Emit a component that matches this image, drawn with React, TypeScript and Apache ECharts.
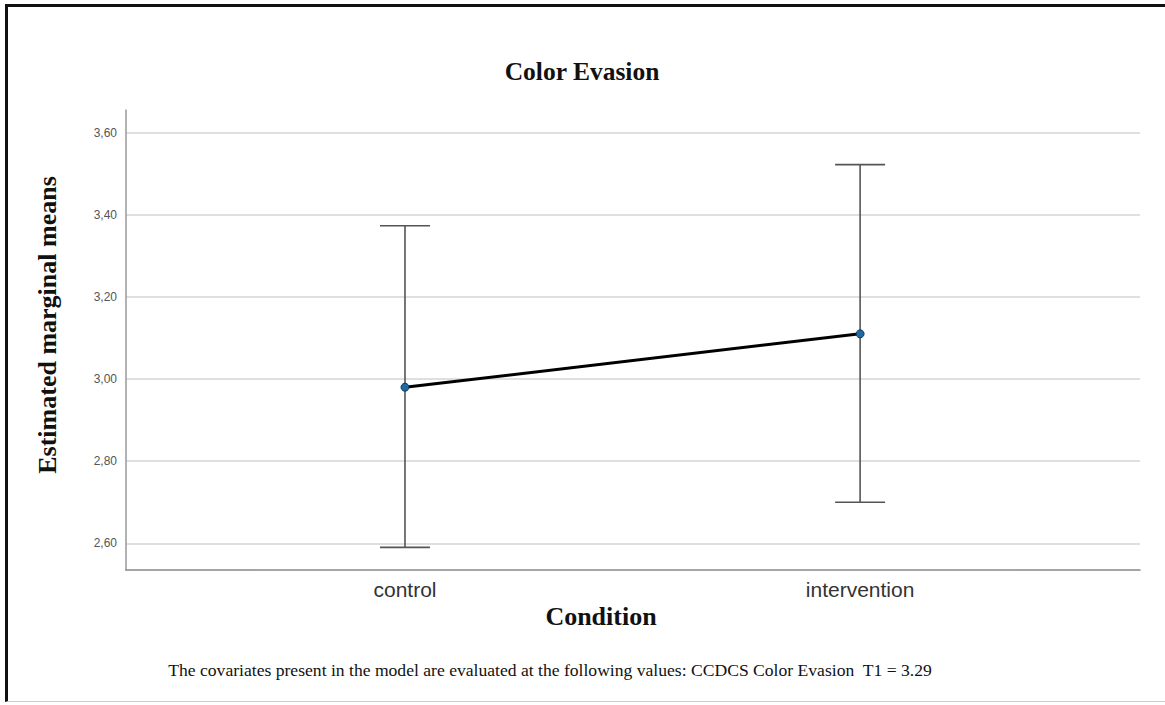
import React, { useEffect, useRef } from "react";
import * as echarts from "echarts";

const categories = ["control", "intervention"];
const means = [2.98, 3.11];
const lower = [2.59, 2.7];
const upper = [3.373, 3.522];
const yTicks = [2.6, 2.8, 3.0, 3.2, 3.4, 3.6];
const titleText = "Color Evasion";
const yTitle = "Estimated marginal means";
const xTitle = "Condition";
const footnote =
  "The covariates present in the model are evaluated at the following values: CCDCS Color Evasion  T1 = 3.29";

export default function App() {
  const ref = useRef<HTMLDivElement>(null);
  useEffect(() => {
    if (!ref.current) return;
    const chart = echarts.init(ref.current, undefined, { renderer: "svg" });
    const catIdx = categories.map((_, i) => i);
    const serifBold = {
      fontFamily: "Liberation Serif",
      fontWeight: "bold",
      fill: "#111",
    };
    chart.setOption({
      animation: false,
      backgroundColor: "#ffffff",
      grid: { left: 126, right: 25, top: 110, bottom: 135, containLabel: false },
      xAxis: {
        type: "value",
        min: -0.613,
        max: 1.615,
        axisLine: { show: true, onZero: false, lineStyle: { color: "#888", width: 1.5 } },
        axisTick: { show: false, customValues: catIdx },
        splitLine: { show: false },
        axisLabel: {
          customValues: catIdx,
          formatter: (v: number) => categories[Math.round(v)] ?? "",
          fontFamily: "Liberation Sans",
          fontSize: 21,
          color: "#333",
          margin: 9,
        },
      },
      yAxis: {
        type: "value",
        min: 2.535,
        max: 3.655,
        axisLine: { show: true, onZero: false, lineStyle: { color: "#999", width: 1.5 } },
        axisTick: { show: false, customValues: yTicks },
        splitLine: { show: true, lineStyle: { color: "#d4d4d4", width: 1.5 } },
        axisLabel: {
          customValues: yTicks,
          formatter: (v: number) => v.toFixed(2).replace(".", ","),
          fontFamily: "Liberation Sans",
          fontSize: 12,
          color: "#555",
          margin: 9,
        },
      },
      graphic: [
        {
          type: "text",
          x: 582,
          y: 71,
          style: { ...serifBold, text: titleText, fontSize: 25.5, align: "center", verticalAlign: "middle" },
        },
        {
          type: "text",
          x: 47,
          y: 325,
          rotation: Math.PI / 2,
          style: { ...serifBold, text: yTitle, fontSize: 26, align: "center", verticalAlign: "middle" },
        },
        {
          type: "text",
          x: 601,
          y: 616,
          style: { ...serifBold, text: xTitle, fontSize: 26, align: "center", verticalAlign: "middle" },
        },
        {
          type: "text",
          x: 550,
          y: 670,
          style: {
            text: footnote,
            fontFamily: "Liberation Serif",
            fontSize: 17.6,
            fill: "#111",
            align: "center",
            verticalAlign: "middle",
          },
        },
      ],
      series: [
        {
          type: "custom",
          z: 2,
          data: catIdx.map((i) => [i, lower[i], upper[i]]),
          renderItem: (params: any, api: any) => {
            const x = api.value(0);
            const lo = api.coord([x, api.value(1)]);
            const hi = api.coord([x, api.value(2)]);
            const hw = 25;
            const style = { stroke: "#555", lineWidth: 1.6 };
            return {
              type: "group",
              children: [
                { type: "line", shape: { x1: lo[0], y1: lo[1], x2: hi[0], y2: hi[1] }, style },
                { type: "line", shape: { x1: lo[0] - hw, y1: lo[1], x2: lo[0] + hw, y2: lo[1] }, style },
                { type: "line", shape: { x1: hi[0] - hw, y1: hi[1], x2: hi[0] + hw, y2: hi[1] }, style },
              ],
            };
          },
        },
        {
          type: "line",
          z: 3,
          data: catIdx.map((i) => [i, means[i]]),
          lineStyle: { color: "#000", width: 3 },
          symbol: "circle",
          symbolSize: 8,
          itemStyle: { color: "#1f6aa5", borderColor: "#0d3a5e", borderWidth: 1 },
        },
      ],
    });
    return () => chart.dispose();
  }, []);
  return (
    <div
      style={{
        position: "fixed",
        left: 0,
        top: 0,
        width: 1165,
        height: 705,
        background: "#fff",
      }}
    >
      <div ref={ref} style={{ position: "absolute", left: 0, top: 0, width: 1165, height: 705 }} />
      <div
        style={{
          position: "absolute",
          left: 5,
          top: 4,
          width: 1165,
          height: 698,
          borderTop: "3px solid #111",
          borderLeft: "3px solid #111",
          borderBottom: "1px solid #ccc",
          boxSizing: "border-box",
          pointerEvents: "none",
        }}
      />
    </div>
  );
}
